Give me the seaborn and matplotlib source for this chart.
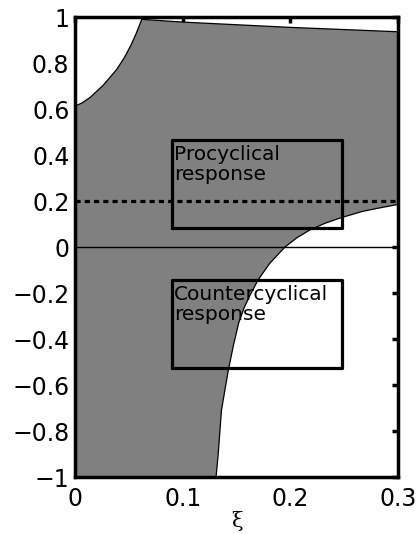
import numpy as np
import matplotlib
matplotlib.use("Agg")
import matplotlib.pyplot as plt
import seaborn as sns
import pandas as pd

# Boundary of the shaded region (upper-left curve)
left_x = [0.0, 0.007, 0.0139, 0.0263, 0.0387, 0.046, 0.052, 0.0565, 0.0595, 0.062]
left_y = [0.612, 0.628, 0.650, 0.704, 0.772, 0.825, 0.878, 0.925, 0.960, 0.99]
# Top boundary line
top_x = [0.062, 0.10, 0.20, 0.30]
top_y = [0.99, 0.978, 0.955, 0.936]
# Lower-right curve
right_x = [0.131, 0.133, 0.136, 0.1424, 0.147, 0.152, 0.157, 0.1625, 0.170,
           0.181, 0.195, 0.206, 0.218, 0.232, 0.246, 0.267, 0.285, 0.300]
right_y = [-1.0, -0.9, -0.71, -0.535, -0.43, -0.33, -0.265, -0.21, -0.143,
           -0.07, 0.0, 0.04, 0.074, 0.103, 0.126, 0.155, 0.172, 0.185]

# Threshold line and boxes
threshold = 0.2
box_x = [0.09, 0.248]
pro_box_y = [0.082, 0.465]
counter_box_y = [-0.527, -0.143]
pro_label = "Procyclical\nresponse"
counter_label = "Countercyclical\nresponse"

xlim = (0.0, 0.3)
ylim = (-1.0, 1.0)
xticks = [0, 0.1, 0.2, 0.3]
xticklabels = ["0", "0.1", "0.2", "0.3"]
yticks = [-1, -0.8, -0.6, -0.4, -0.2, 0, 0.2, 0.4, 0.6, 0.8, 1]
yticklabels = ["\u22121", "\u22120.8", "\u22120.6", "\u22120.4", "\u22120.2", "0",
               "0.2", "0.4", "0.6", "0.8", "1"]

sns.set_style("white")
plt.rcParams['font.family'] = ['DejaVu Sans']
plt.rcParams['text.color'] = 'black'

fig = plt.figure(figsize=(4.19, 5.34), dpi=100)
ax = fig.add_axes([0.179, 0.1067, 0.771, 0.8614])

# shaded polygon
poly_x = [xlim[0]] + right_x + top_x[::-1] + left_x[::-1]
poly_y = [ylim[0]] + right_y + top_y[::-1] + left_y[::-1]
ax.fill(poly_x, poly_y, color="#808080", lw=0, zorder=1)

for xs, ys in [(left_x, left_y), (top_x, top_y), (right_x, right_y)]:
    df = pd.DataFrame({"x": xs, "y": ys})
    sns.lineplot(data=df, x="x", y="y", sort=False, estimator=None,
                 color="black", lw=0.9, ax=ax, zorder=2)

ax.axhline(0, color="black", lw=1.0, zorder=2)
ax.axhline(threshold, color="black", lw=2.3, linestyle=(0, (1.6, 1.3)), zorder=3)

for by in (pro_box_y, counter_box_y):
    ax.plot([box_x[0], box_x[1], box_x[1], box_x[0], box_x[0]],
            [by[0], by[0], by[1], by[1], by[0]], color="black", lw=2.3, zorder=4)

ax.text(box_x[0] + 0.002, pro_box_y[1] - 0.02, pro_label, ha="left", va="top",
        fontsize=14.5, linespacing=1.12, color="black", zorder=5)
ax.text(box_x[0] + 0.002, counter_box_y[1] - 0.02, counter_label, ha="left", va="top",
        fontsize=14.5, linespacing=1.12, color="black", zorder=5)

ax.set_xlim(*xlim)
ax.set_ylim(*ylim)
ax.set_xticks(xticks)
ax.set_xticklabels(xticklabels)
ax.set_yticks(yticks)
ax.set_yticklabels(yticklabels)
ax.tick_params(direction="in", length=4, width=2.5, top=True, right=True,
               labelsize=17, pad=4, colors="black")
ax.tick_params(axis="x", pad=7)
for s in ax.spines.values():
    s.set_linewidth(2.5)
    s.set_color("black")
    s.set_zorder(6)
ax.set_xlabel("\u03be", fontsize=15, family="DejaVu Serif", labelpad=0, color="black")
ax.set_ylabel("")

fig.savefig("out.png", dpi=100)
